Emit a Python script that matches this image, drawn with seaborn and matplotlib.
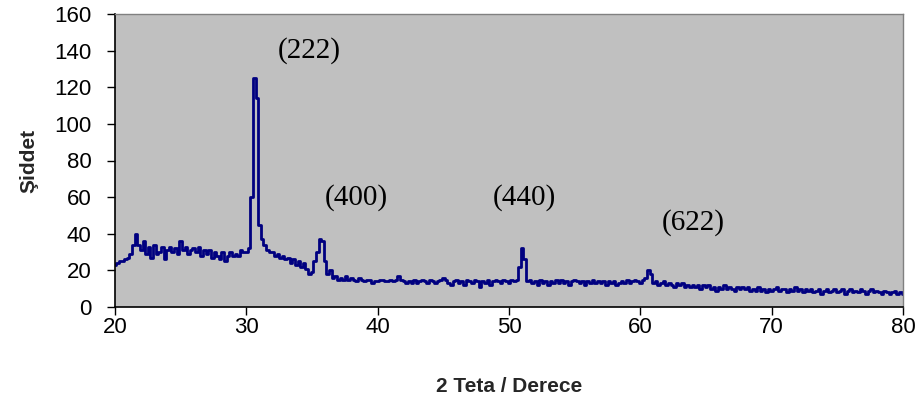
import numpy as np
import pandas as pd
import matplotlib
matplotlib.use("Agg")
import matplotlib.pyplot as plt
import seaborn as sns

# 2-theta grid (0.2 degree steps, 20..80)
two_theta = np.round(np.linspace(20, 80, 301), 1)

# intensity, one row per degree (x.0, x.2, x.4, x.6, x.8)
intensity = [
    23, 24, 25, 25, 26,   # 20
    27, 29, 34, 40, 34,   # 21
    31, 36, 29, 33, 27,   # 22
    34, 29, 30, 33, 26,   # 23
    31, 33, 30, 32, 29,   # 24
    36, 31, 33, 29, 31,   # 25
    32, 30, 33, 28, 31,   # 26
    29, 31, 27, 30, 28,   # 27
    26, 30, 25, 28, 30,   # 28
    28, 29, 28, 31, 30,   # 29
    30, 32, 60, 125, 114, # 30
    45, 37, 34, 31, 30,   # 31
    30, 28, 29, 27, 28,   # 32
    26, 27, 24, 26, 23,   # 33
    25, 22, 24, 21, 18,   # 34
    19, 25, 30, 37, 36,   # 35
    25, 18, 20, 16, 17,   # 36
    15, 16, 15, 17, 15,   # 37
    16, 15, 14, 16, 15,   # 38
    14, 15, 15, 13, 14,   # 39
    14, 15, 15, 14, 14,   # 40
    15, 14, 15, 17, 15,   # 41
    14, 13, 14, 13, 15,   # 42
    13, 14, 15, 14, 13,   # 43
    15, 14, 13, 14, 15,   # 44
    16, 15, 13, 12, 14,   # 45
    15, 13, 14, 12, 15,   # 46
    14, 13, 15, 14, 11,   # 47
    14, 13, 15, 12, 14,   # 48
    15, 14, 13, 15, 14,   # 49
    13, 15, 14, 15, 22,   # 50
    32, 26, 14, 15, 13,   # 51
    14, 12, 15, 13, 14,   # 52
    12, 14, 13, 15, 13,   # 53
    15, 13, 14, 12, 14,   # 54
    15, 14, 13, 14, 12,   # 55
    14, 13, 15, 13, 14,   # 56
    13, 14, 12, 14, 13,   # 57
    14, 12, 13, 14, 13,   # 58
    15, 13, 14, 15, 14,   # 59
    13, 15, 16, 20, 18,   # 60
    13, 14, 12, 13, 14,   # 61
    12, 13, 12, 11, 13,   # 62
    12, 13, 11, 12, 11,   # 63
    12, 11, 12, 10, 12,   # 64
    11, 12, 10, 11, 9,    # 65
    11, 10, 12, 10, 11,   # 66
    10, 9, 11, 10, 11,    # 67
    10, 11, 9, 10, 9,     # 68
    11, 9, 10, 8, 10,     # 69
    9, 10, 11, 9, 10,     # 70
    10, 8, 10, 9, 11,     # 71
    9, 10, 8, 10, 9,      # 72
    10, 8, 9, 10, 7,      # 73
    9, 10, 8, 9, 10,      # 74
    8, 9, 10, 7, 9,       # 75
    10, 8, 9, 8, 10,      # 76
    9, 7, 9, 10, 8,       # 77
    9, 8, 7, 9, 8,        # 78
    7, 8, 9, 7, 8,        # 79
    7,                    # 80
]

peak_labels = ["(222)", "(400)", "(440)", "(622)"]
peak_label_x = [34.8, 38.4, 51.2, 64.0]
peak_label_y = [140, 60, 60, 46]

x_ticks = [20, 30, 40, 50, 60, 70, 80]
y_ticks = [0, 20, 40, 60, 80, 100, 120, 140, 160]

sns.set_theme(style="white")
plt.rcParams["font.family"] = ["Liberation Sans", "DejaVu Sans"]

df = pd.DataFrame({"2theta": two_theta, "I": intensity})

fig = plt.figure(figsize=(9.17, 4.07), dpi=100)
ax = fig.add_axes([115 / 917, 1 - 307 / 407, (903 - 115) / 917, (307 - 14) / 407])
ax.set_facecolor("#C0C0C0")

sns.lineplot(data=df, x="2theta", y="I", ax=ax, color="#000080", linewidth=2.0,
             estimator=None, drawstyle="steps-mid")

ax.set_xlim(20, 80)
ax.set_ylim(0, 160)
ax.set_xticks(x_ticks)
ax.set_yticks(y_ticks)
ax.tick_params(axis="both", which="major", direction="out", length=6, width=1,
               color="black", labelsize=16, labelcolor="black")
ax.tick_params(axis="x", pad=1)
ax.tick_params(axis="y", pad=11)
ax.xaxis.set_ticks_position("bottom")
ax.yaxis.set_ticks_position("left")

for side in ["left", "bottom"]:
    ax.spines[side].set_color("black")
    ax.spines[side].set_linewidth(1.2)
for side in ["top", "right"]:
    ax.spines[side].set_color("#808080")
    ax.spines[side].set_linewidth(1.0)

ax.set_xlabel("2 Teta / Derece", fontsize=15, fontweight="bold", labelpad=28)
ax.set_ylabel("Şiddet", fontsize=15, fontweight="bold", labelpad=11)

for lab, lx, ly in zip(peak_labels, peak_label_x, peak_label_y):
    ax.text(lx, ly, lab, ha="center", va="center", fontsize=21,
            family=["Liberation Serif", "DejaVu Serif"], color="black")

fig.savefig("out.png", dpi=100, facecolor="white")
